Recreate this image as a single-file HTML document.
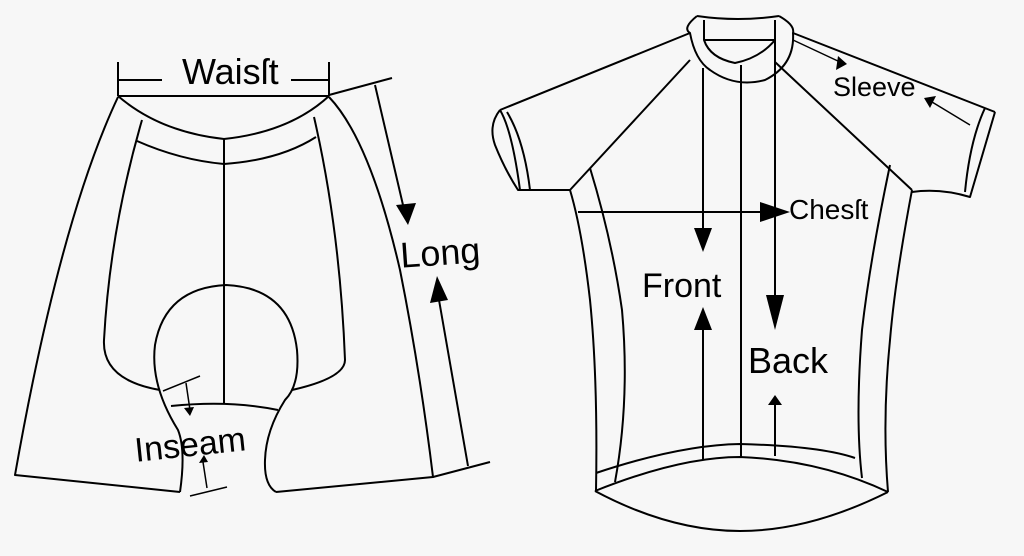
<!DOCTYPE html>
<html><head><style>
html,body{margin:0;padding:0;background:#f7f7f7;}
svg{display:block;}
text{font-family:"Liberation Sans",sans-serif;fill:#000;}
</style></head><body>
<svg width="1024" height="556" viewBox="0 0 1024 556" xmlns="http://www.w3.org/2000/svg">
<g fill="none" stroke="#000" stroke-width="2" stroke-linejoin="round">
<!-- SHORTS -->
<path d="M118 62V96M329 62V96M118 96H329M118 80H162M291 80H329"/>
<path d="M118 96Q160 132 224 139Q290 132 329 96"/>
<path d="M137 141Q180 160 224 164Q280 160 316 137"/>
<path d="M224 139V404"/>
<path d="M118 97Q60 220 15 475L180 492"/>
<path d="M329 97Q370 140 400 270Q420 370 433 477L276 492"/>
<path d="M433 477L490 462M329 95L392 78"/>
<path d="M142 120Q110 230 104 340Q102 380 160 390"/>
<path d="M314 117Q340 230 345 360Q345 378 292 390"/>
<path d="M180 492Q186 450 178 430Q150 385 155 345Q165 288 226 285Q290 288 297 350Q300 385 285 400Q266 430 265 460Q264 485 276 492"/>
<path d="M171 406Q230 400 278 410"/>
<path d="M163 391L200 376M186 383L190 410M207 488L203 462M190 496L227 487" stroke-width="1.5"/>
<path d="M375 85L403 205M468 466L439 300"/>
<!-- JERSEY -->
<path d="M697 16Q738 22 779 16"/>
<path d="M697 16Q682 28 690 33Q695 60 710 70Q735 88 765 80Q795 65 793 33Q795 25 779 16"/>
<path d="M704 20V40H775V20M704 40Q710 58 735 63Q760 58 775 40"/>
<path d="M690 33L500 110M793 33L995 112"/>
<path d="M500 110Q488 125 495 145Q505 170 518 190H570M500 110Q512 130 520 190M507 112Q524 140 530 190"/>
<path d="M690 60L570 190M775 62L912 190"/>
<path d="M995 112L970 197Q940 188 912 192M985 108Q970 140 965 192"/>
<path d="M570 190Q582 230 590 300Q598 380 596 491"/>
<path d="M590 168Q612 240 622 310Q630 400 615 482"/>
<path d="M912 190Q895 280 890 340Q882 420 888 492"/>
<path d="M890 165Q870 260 862 330Q855 420 862 478"/>
<path d="M596 473Q680 445 740 444Q820 446 855 458"/>
<path d="M595 491Q680 457 740 457Q820 460 888 492"/>
<path d="M595 491Q670 531 740 531Q810 531 888 492"/>
<path d="M703 68V240M703 320V460M741 65V458M775 40V310M775 404V456M578 212H765"/>
<path d="M793 40L840 62M970 125L932 102" stroke-width="1.5"/>
</g>
<g fill="#000">
<polygon points="396,205 416,203 408,225"/>
<polygon points="430,303 448,300 437,276"/>
<polygon points="184,408 194,407 190,416"/>
<polygon points="199,463 208,462 204,455"/>
<polygon points="694,228 712,228 703,252"/>
<polygon points="694,330 712,330 703,307"/>
<polygon points="766,295 784,295 775,330"/>
<polygon points="768,405 782,405 775,395"/>
<polygon points="760,202 760,222 790,212"/>
<polygon points="838,56 847,64 836,70"/>
<polygon points="936,96 924,98 930,108"/>
</g>
<text x="182" y="84" font-size="36">Waisſt</text>
<text x="400" y="265" font-size="36" transform="rotate(-4 440 250)">Long</text>
<text x="134" y="455" font-size="34" transform="rotate(-6 200 440)">Inseam</text>
<text x="833" y="96" font-size="27">Sleeve</text>
<text x="789" y="219" font-size="28">Chesſt</text>
<text x="642" y="297" font-size="34">Front</text>
<text x="748" y="373" font-size="36">Back</text>
</svg>
</body></html>
